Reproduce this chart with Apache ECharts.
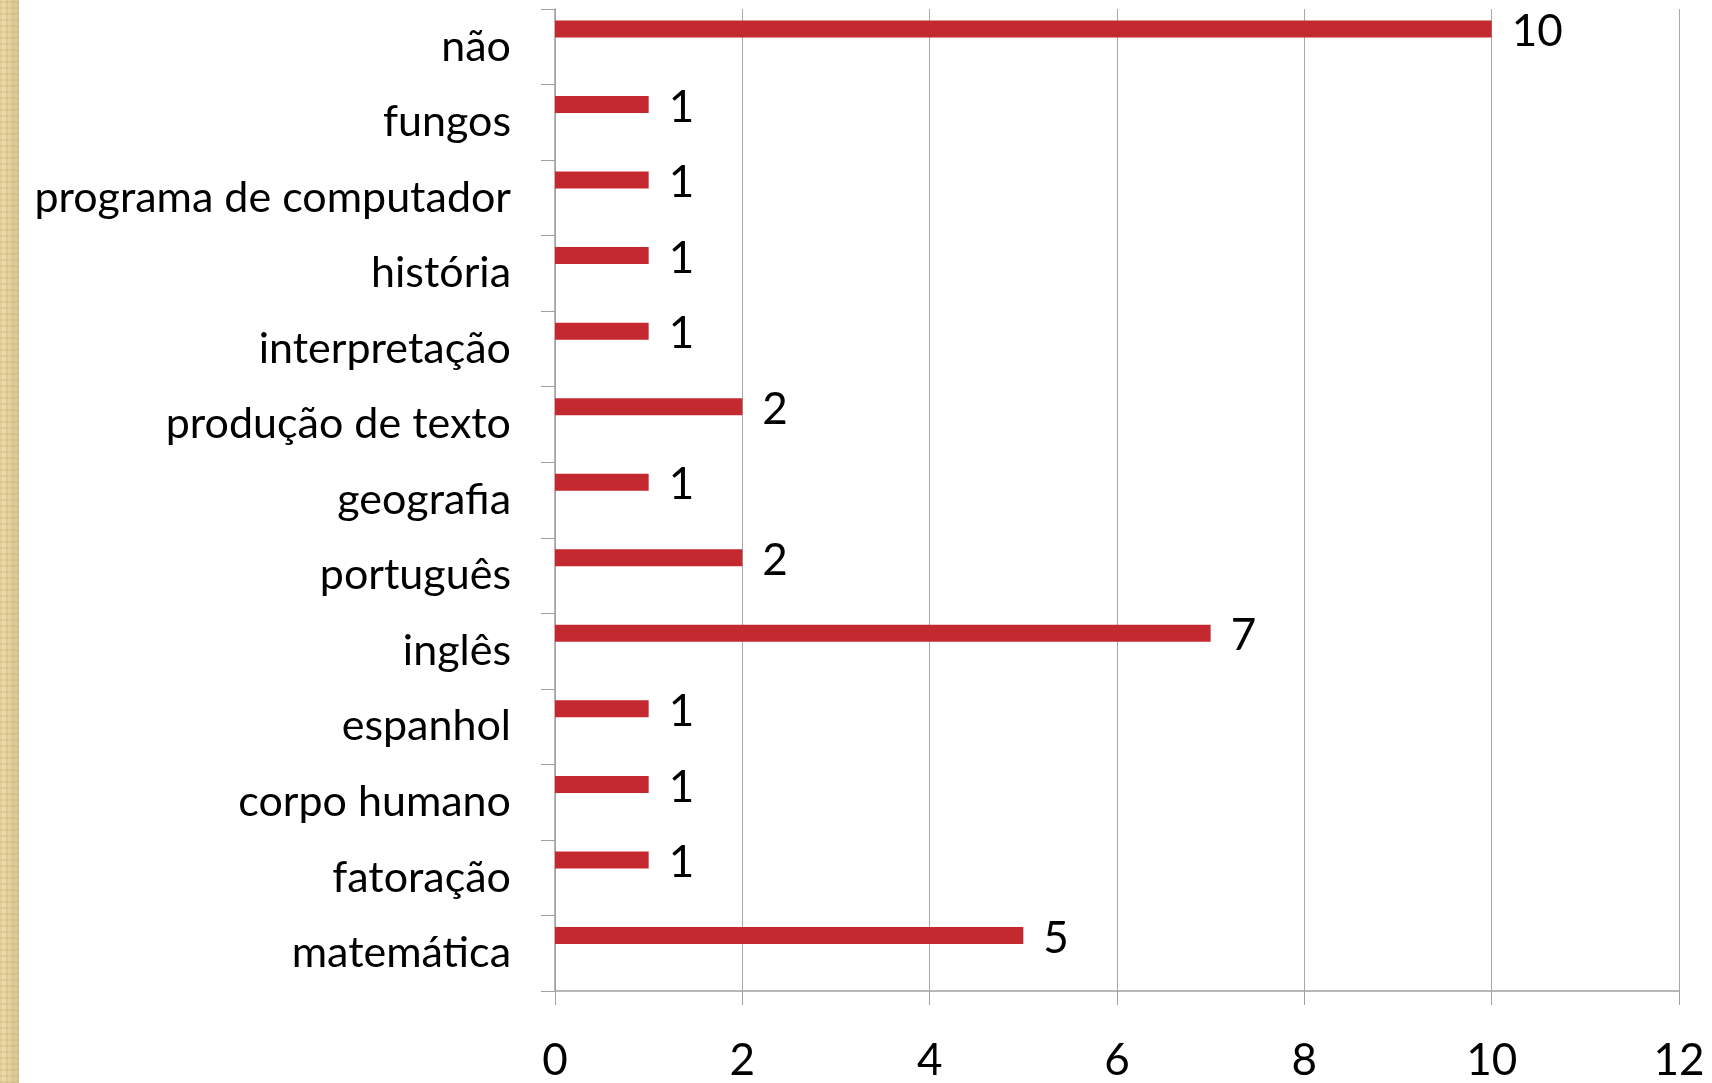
<!DOCTYPE html>
<html>
<head>
<meta charset="utf-8">
<script src="https://cdn.jsdelivr.net/npm/echarts@6/dist/echarts.min.js"></script>
<style>
html, body { margin: 0; padding: 0; background: #ffffff; }
#strip {
  position: absolute; left: 0; top: 0; width: 19px; height: 1083px;
  background-color: #efdfad;
  background-image:
    repeating-linear-gradient(0deg, rgba(200,180,120,0.35) 0px, rgba(200,180,120,0.35) 2px, transparent 2px, transparent 6px),
    repeating-linear-gradient(90deg, rgba(200,180,120,0.35) 0px, rgba(200,180,120,0.35) 2px, transparent 2px, transparent 6px),
    linear-gradient(90deg, rgba(255,245,210,0) 0%, rgba(180,160,110,0.4) 100%);
}
#chart { position: absolute; left: 0; top: 0; width: 1712px; height: 1083px; }
</style>
</head>
<body>
<div id="strip"></div>
<div id="chart"></div>
<script>
const categories = [
  'não', 'fungos', 'programa de computador', 'história', 'interpretação',
  'produção de texto', 'geografia', 'português', 'inglês', 'espanhol',
  'corpo humano', 'fatoração', 'matemática'
];
const values = [10, 1, 1, 1, 1, 2, 1, 2, 7, 1, 1, 1, 5];
const xTicks = [0, 2, 4, 6, 8, 10, 12];

const FONT = 'Lato';
const chart = echarts.init(document.getElementById('chart'), null, { renderer: 'canvas' });
chart.setOption({
  animation: false,
  backgroundColor: 'transparent',
  grid: { left: 555, right: 33, top: 9, bottom: 89, containLabel: false },
  xAxis: {
    type: 'value',
    min: xTicks[0],
    max: xTicks[xTicks.length - 1],
    interval: 2,
    axisLine: { show: true, lineStyle: { color: '#a0a0a0', width: 1.5 } },
    axisTick: { show: true, length: 14, lineStyle: { color: '#a0a0a0', width: 1 } },
    splitLine: { show: true, lineStyle: { color: '#a8a8a8', width: 1 } },
    axisLabel: { color: '#000', fontFamily: FONT, fontSize: 44, margin: 48 }
  },
  yAxis: {
    type: 'category',
    data: categories,
    inverse: true,
    axisLine: { show: true, lineStyle: { color: '#a0a0a0', width: 1.5 } },
    axisTick: { show: true, length: 14, lineStyle: { color: '#a0a0a0', width: 1 } },
    splitLine: { show: false },
    axisLabel: { color: '#000', fontFamily: FONT, fontSize: 43, margin: 44 }
  },
  series: [
    {
      type: 'bar',
      data: values,
      barWidth: 17,
      barGap: '109%',
      itemStyle: { color: '#c3292f' },
      label: {
        show: true, position: 'right', distance: 20, offset: [0, 3],
        color: '#000', fontFamily: FONT, fontSize: 44
      }
    },
    {
      type: 'bar',
      data: [],
      barWidth: 17,
      barGap: '109%',
      itemStyle: { color: 'transparent' }
    }
  ]
});
</script>
</body>
</html>
